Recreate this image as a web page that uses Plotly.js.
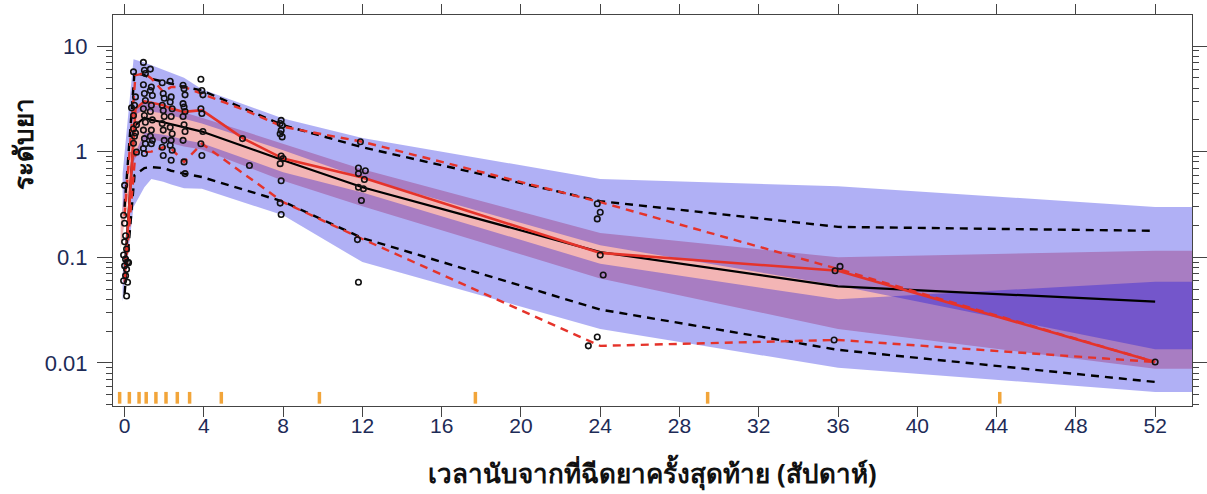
<!DOCTYPE html>
<html>
<head>
<meta charset="utf-8">
<script src="https://cdn.plot.ly/plotly-3.0.1.min.js"></script>
<style>html,body{margin:0;padding:0;background:#fff;}#chart{width:1207px;height:494px;}</style>
</head>
<body>
<div id="chart"></div>
<script>
// ---------- data ----------
// simulated-percentile bin positions (weeks)
const simX = [0, 0.5, 1.0, 1.35, 1.95, 2.35, 3.0, 3.9, 8, 12, 24, 36, 52];
const simMedian = [0.075, 1.75, 2.1, 2.0, 1.9, 1.82, 1.7, 1.55, 0.83, 0.46, 0.112, 0.053, 0.038];
const simP95 = [0.3, 5.6, 5.3, 4.9, 4.6, 4.4, 4.1, 3.8, 1.78, 1.1, 0.34, 0.194, 0.178];
const simP05 = [0.045, 0.6, 0.7, 0.715, 0.70, 0.66, 0.62, 0.575, 0.337, 0.152, 0.032, 0.0133, 0.0066];

// confidence bands
const bandX = [-0.1, 0.45, 1.0, 1.35, 1.95, 2.35, 3.0, 3.9, 8, 12, 24, 36, 52, 54];
const upperBandHi = [0.62, 7.5, 7.0, 6.6, 6.0, 5.6, 5.0, 3.9, 2.06, 1.35, 0.55, 0.47, 0.30, 0.30];
const upperBandLo = [0.25, 2.2, 2.5, 2.4, 2.3, 2.2, 2.05, 1.85, 1.03, 0.56, 0.13, 0.054, 0.0135, 0.0135];
const lowerBandHi = [0.07, 0.9, 1.5, 1.5, 1.45, 1.4, 1.3, 1.2, 0.64, 0.41, 0.087, 0.040, 0.0587, 0.0587];
const lowerBandLo = [0.038, 0.3, 0.46, 0.55, 0.52, 0.49, 0.45, 0.445, 0.25, 0.09, 0.021, 0.009, 0.0053, 0.0053];
const medBandX = [-0.2, 0.45, 1.0, 1.35, 1.95, 2.35, 3.0, 3.9, 8, 12, 24, 36, 52, 54];
const medBandHi = [0.21, 2.6, 2.9, 2.8, 2.6, 2.5, 2.35, 2.1, 1.19, 0.68, 0.17, 0.10, 0.1156, 0.1156];
const medBandLo = [0.12, 0.8, 1.3, 1.3, 1.25, 1.2, 1.12, 1.05, 0.53, 0.305, 0.063, 0.021, 0.0088, 0.0088];

// observed percentiles
const obsPX = [0, 0.55, 1.0, 1.35, 1.95, 2.35, 3.0, 3.9, 6.0, 8.0, 12.0, 24.0, 36.0, 52.0];
const obsMedian = [0.062, 2.56, 3.0, 2.92, 2.75, 2.56, 2.38, 2.47, 1.33, 0.86, 0.57, 0.11, 0.0746, 0.0102];
const obsP95 = [0.248, 5.3, 5.5, 4.94, 3.69, 4.1, 4.1, 3.55, 2.5, 1.72, 1.24, 0.333, 0.0775, 0.0102];
const obsP05 = [0.058, 0.99, 0.99, 1.0, 1.1, 1.07, 0.8, 1.19, 0.62, 0.333, 0.149, 0.0145, 0.0165, 0.0102];

// bin boundaries (rug)
const binEdges = [-0.25, 0.24, 0.73, 1.09, 1.58, 2.09, 2.66, 3.28, 4.88, 9.83, 17.7, 29.42, 44.16];

// observations
const obsTime = [
  0.0, -0.05, 0.0, 0.05, 0.0, 0.1, -0.05, 0.05, 0.15, 0.0, 0.2, 0.1, 0.05, -0.05, 0.15, 0.1,
  0.45, 0.55, 0.5, 0.35, 0.45, 0.6, 0.45, 0.55, 0.5, 0.45, 0.6,
  0.95, 1.0, 1.05, 0.95, 1.0, 1.05, 0.95, 1.0, 1.05, 0.95, 1.0, 1.05, 0.95, 1.0,
  1.3, 1.35, 1.3, 1.4, 1.35, 1.3, 1.4, 1.35, 1.3, 1.4, 1.35,
  1.9, 1.95, 2.0, 1.9, 1.95, 2.0, 1.9, 1.95, 2.0, 1.9, 1.95,
  2.3, 2.35, 2.3, 2.4, 2.35, 2.3, 2.4, 2.35, 2.3, 2.4, 2.35,
  2.95, 3.0, 3.05, 2.95, 3.0, 3.05, 2.95, 3.0, 3.05, 2.95, 3.0, 3.05,
  3.85, 3.9, 3.95, 3.85, 3.9, 3.95, 3.85, 3.9,
  5.95, 6.3,
  7.9, 7.85, 7.95, 7.9, 7.85, 7.95, 7.9, 8.0, 7.85, 7.9, 7.85, 7.9,
  11.9, 11.8, 12.15, 11.8, 12.1, 11.8, 12.05, 11.95, 11.75, 11.8,
  23.85, 24.0, 23.85, 24.0, 24.15, 23.85, 23.4,
  36.1, 35.85, 35.8,
  52.0
];
const obsConc = [
  0.48, 0.25, 0.21, 0.16, 0.14, 0.12, 0.105, 0.096, 0.09, 0.083, 0.089, 0.077, 0.067, 0.06, 0.058, 0.043,
  5.7, 3.3, 2.75, 2.6, 2.2, 1.8, 1.65, 1.5, 1.4, 1.2, 0.99,
  7.0, 5.9, 5.5, 4.3, 3.55, 3.05, 2.55, 2.2, 1.9, 1.6, 1.33, 1.19, 1.07, 0.96,
  6.05, 4.1, 3.8, 3.4, 2.75, 2.4, 2.0, 1.6, 1.4, 1.28, 1.19,
  4.5, 3.55, 3.2, 2.75, 2.45, 2.15, 1.85, 1.6, 1.28, 1.1, 0.92,
  4.65, 3.3, 2.95, 2.55, 2.15, 1.7, 1.48, 1.28, 1.15, 1.03, 0.83,
  4.25, 3.95, 3.45, 2.85, 2.65, 2.4, 2.15, 1.8, 1.55, 1.28, 0.8, 0.62,
  4.85, 3.8, 3.45, 2.55, 2.3, 1.55, 1.19, 0.92,
  1.33, 0.74,
  1.98, 1.85, 1.78, 1.59, 1.48, 1.38, 0.91, 0.86, 0.77, 0.53, 0.326, 0.254,
  1.24, 0.70, 0.66, 0.62, 0.545, 0.46, 0.445, 0.345, 0.147, 0.058,
  0.321, 0.267, 0.231, 0.105, 0.068, 0.0176, 0.0145,
  0.082, 0.0746, 0.0165,
  0.0102
];

const xTicks = [0, 4, 8, 12, 16, 20, 24, 28, 32, 36, 40, 44, 48, 52];
const yTicks = [0.01, 0.1, 1, 10];
const yTickText = ['0.01', '0.1', '1', '10'];

// ---------- build ----------
function band(xs, hi, lo, color) {
  return {
    type: 'scatter', mode: 'lines',
    x: xs.concat(xs.slice().reverse()),
    y: hi.concat(lo.slice().reverse()),
    fill: 'toself', fillcolor: color,
    line: {width: 0}, hoverinfo: 'skip', showlegend: false
  };
}
const PINK = 'rgba(212,0,0,0.29)';
const BLUE = 'rgba(0,0,223,0.31)';
const RED = '#e5332a';
const DASH = '8px,6px';

const traces = [
  band(medBandX, medBandHi, medBandLo, PINK),
  band(bandX, upperBandHi, upperBandLo, BLUE),
  band(bandX, lowerBandHi, lowerBandLo, BLUE),
  {type: 'scatter', mode: 'lines', x: simX, y: simP95, line: {color: '#000', width: 2.4, dash: DASH}, showlegend: false},
  {type: 'scatter', mode: 'lines', x: simX, y: simP05, line: {color: '#000', width: 2.4, dash: DASH}, showlegend: false},
  {type: 'scatter', mode: 'lines', x: simX, y: simMedian, line: {color: '#000', width: 2.2}, showlegend: false},
  {type: 'scatter', mode: 'lines', x: obsPX, y: obsP95, line: {color: RED, width: 2.4, dash: DASH}, showlegend: false},
  {type: 'scatter', mode: 'lines', x: obsPX, y: obsP05, line: {color: RED, width: 2.4, dash: DASH}, showlegend: false},
  {type: 'scatter', mode: 'lines', x: obsPX, y: obsMedian, line: {color: RED, width: 2.6}, showlegend: false},
  {type: 'scatter', mode: 'markers', x: obsTime, y: obsConc,
   marker: {symbol: 'circle-open', size: 5.5, color: '#111', line: {width: 1.6, color: '#111'}}, showlegend: false}
];

const shapes = binEdges.map(v => ({
  type: 'line', xref: 'x', yref: 'paper', x0: v, x1: v, y0: 0.006, y1: 0.036,
  line: {color: '#f2a53a', width: 3.5}
}));

const tickFontX = {family: 'Liberation Sans, Arial, sans-serif', size: 21, color: '#1d2b57'};
const tickFontY = {family: 'Liberation Sans, Arial, sans-serif', size: 22, color: '#1d2b57'};

const layout = {
  width: 1207, height: 494,
  margin: {l: 113, r: 15, t: 15, b: 88},
  paper_bgcolor: '#fff', plot_bgcolor: '#fff',
  showlegend: false,
  xaxis: {
    range: [-0.585, 53.86], tickvals: xTicks, ticktext: xTicks.map(String),
    ticks: 'outside', ticklen: 10, tickwidth: 1, tickcolor: '#444',
    ticklabelstandoff: -9,
    showline: true, linecolor: '#444', linewidth: 1, mirror: 'allticks',
    showgrid: false, zeroline: false, tickfont: tickFontX,
    title: {text: 'เวลานับจากที่ฉีดยาครั้งสุดท้าย (สัปดาห์)', standoff: 28,
            font: {family: 'Noto Sans, DejaVu Sans, sans-serif', size: 26, color: '#111', weight: 'bold'}}
  },
  yaxis: {
    type: 'log', range: [-2.408, 1.294], tickvals: yTicks, ticktext: yTickText,
    ticks: 'outside', ticklen: 15, tickwidth: 1, tickcolor: '#444',
    ticklabelstandoff: 5,
    minor: {ticks: 'outside', ticklen: 6, tickcolor: '#444', dtick: 'D1', showgrid: false},
    showline: true, linecolor: '#444', linewidth: 1, mirror: 'allticks',
    showgrid: false, zeroline: false, tickfont: tickFontY
  },
  shapes: shapes,
  annotations: [{
    text: 'ระดับยา', xref: 'paper', yref: 'paper', x: -0.083, y: 0.67,
    xanchor: 'center', yanchor: 'middle', textangle: -90, showarrow: false,
    font: {family: 'Noto Sans, DejaVu Sans, sans-serif', size: 26, color: '#111', weight: 'bold'}
  }]
};

Plotly.newPlot('chart', traces, layout, {displayModeBar: false, staticPlot: true});
</script>
</body>
</html>
